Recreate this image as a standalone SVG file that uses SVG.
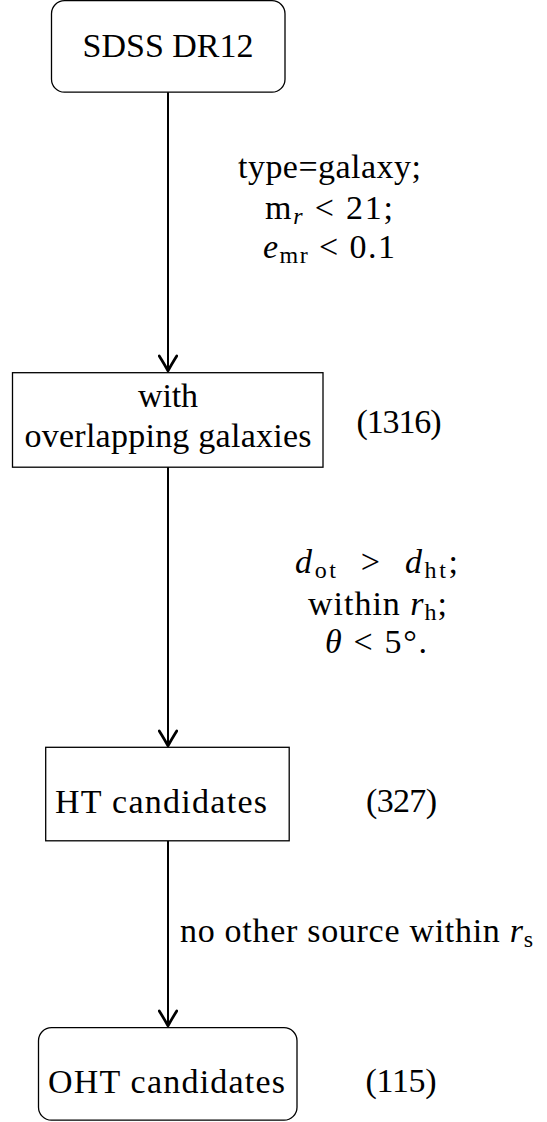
<svg xmlns="http://www.w3.org/2000/svg" width="547" height="1122" viewBox="0 0 547 1122" font-family="'Liberation Serif', 'DejaVu Serif', serif">
<style>
.box{fill:#fff;stroke:#000;stroke-width:1.3}
text{font-family:'Liberation Serif','DejaVu Serif',serif;font-size:34px;fill:#000}
.sub{font-size:24px}
.i{font-style:italic}
.conn{stroke:#000;stroke-width:2;fill:none}
</style>
<defs>
<marker id="arr" markerUnits="userSpaceOnUse" markerWidth="20" markerHeight="20" viewBox="-14 -8 16 16" refX="0" refY="0" orient="auto">
<path d="M-12,-7 Q-4,-2 0,0 Q-4,2 -12,7" fill="none" stroke="#000" stroke-width="2.2" stroke-linecap="round" stroke-linejoin="round"/>
</marker>
</defs>
<rect width="547" height="1122" fill="#fff"/>
<g id="connectors">
<line class="conn" x1="168" y1="92" x2="168" y2="371" marker-end="url(#arr)"/>
<line class="conn" x1="168" y1="467" x2="168" y2="746" marker-end="url(#arr)"/>
<line class="conn" x1="168" y1="841" x2="168" y2="1026" marker-end="url(#arr)"/>
<g id="label1" text-anchor="middle">
<text x="329.5" y="178" textLength="183">type=galaxy;</text>
<text x="329" y="219" textLength="128">m<tspan class="sub i" dy="5">r</tspan><tspan dy="-5" xml:space="preserve"> &lt; 21;</tspan></text>
<text x="329" y="258" textLength="132"><tspan class="i">e</tspan><tspan class="sub" dy="5">mr</tspan><tspan dy="-5" xml:space="preserve"> &lt; 0.1</tspan></text>
</g>
<g id="label2" text-anchor="middle">
<text x="376.5" y="573" textLength="163"><tspan class="i">d</tspan><tspan class="sub" dy="5">ot</tspan><tspan dy="-5" xml:space="preserve">  &gt;  </tspan><tspan class="i">d</tspan><tspan class="sub" dy="5">ht</tspan><tspan dy="-5">;</tspan></text>
<text x="377.5" y="615" textLength="139">within <tspan class="i">r</tspan><tspan class="sub" dy="5">h</tspan><tspan dy="-5">;</tspan></text>
<text x="376" y="653" textLength="102"><tspan class="i">θ</tspan> &lt; 5°.</text>
</g>
<g id="label3">
<text x="180" y="942" textLength="353">no other source within <tspan class="i">r</tspan><tspan class="sub" dy="5">s</tspan></text>
</g>
</g>
<g id="n1">
<rect class="box" x="51.5" y="0.7" width="233.5" height="91.5" rx="13"/>
<text x="168" y="57" text-anchor="middle" textLength="171">SDSS DR12</text>
</g>
<g id="n2">
<rect class="box" x="12.5" y="372.7" width="310.5" height="94.5"/>
<text x="168" y="407" text-anchor="middle" textLength="60">with</text>
<text x="168" y="447" text-anchor="middle" textLength="287">overlapping galaxies</text>
<text x="399" y="433" text-anchor="middle" textLength="85">(1316)</text>
</g>
<g id="n3">
<rect class="box" x="45.7" y="747.3" width="243.5" height="93.5"/>
<text x="161" y="813" text-anchor="middle" textLength="212">HT candidates</text>
<text x="401.5" y="812" text-anchor="middle" textLength="71">(327)</text>
</g>
<g id="n4">
<rect class="box" x="38.5" y="1027.7" width="258.5" height="92.5" rx="13"/>
<text x="166.5" y="1093" text-anchor="middle" textLength="237">OHT candidates</text>
<text x="401" y="1092" text-anchor="middle" textLength="71">(115)</text>
</g>
</svg>
